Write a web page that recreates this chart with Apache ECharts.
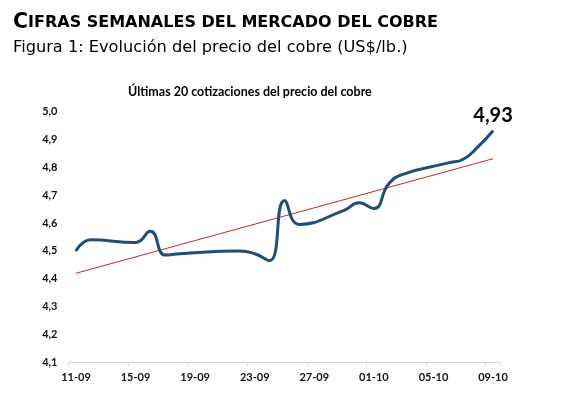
<!DOCTYPE html>
<html>
<head>
<meta charset="utf-8">
<script src="https://cdn.jsdelivr.net/npm/echarts@6/dist/echarts.min.js"></script>
<style>
html,body{margin:0;padding:0;background:#fff;}
#c{width:578px;height:394px;}
</style>
</head>
<body>
<div id="c"></div>
<script>
// all calendar days on the axis (date axis, every 4th labelled)
const days = ['11-09','12-09','13-09','14-09','15-09','16-09','17-09','18-09','19-09','20-09','21-09','22-09','23-09','24-09','25-09','26-09','27-09','28-09','29-09','30-09','01-10','02-10','03-10','04-10','05-10','06-10','07-10','08-10','09-10'];
// the 20 quote dates and prices (US$/lb)
const quoteDates = ['11-09','12-09','15-09','16-09','17-09','18-09','22-09','23-09','24-09','25-09','26-09','29-09','30-09','01-10','02-10','03-10','06-10','07-10','08-10','09-10'];
const prices = [4.50,4.54,4.53,4.57,4.485,4.49,4.50,4.49,4.465,4.68,4.595,4.645,4.672,4.652,4.74,4.775,4.815,4.828,4.873,4.93];
// linear trend line end points
const trendDates = ['11-09','09-10'];
const trendValues = [4.42,4.83];
// y-axis ticks
const yTicks = [4.1,4.2,4.3,4.4,4.5,4.6,4.7,4.8,4.9,5.0];

const fmt = v => v.toFixed(2).replace('.', ',');
const lineData = quoteDates.map((d, i) => {
  const item = { value: [d, prices[i]] };
  if (i === quoteDates.length - 1) {
    item.label = {
      show: true, position: 'top', distance: 5,
      formatter: p => fmt(p.value[1]),
      fontFamily: 'Lato', fontWeight: 'bold', fontSize: 20, color: '#000'
    };
  }
  return item;
});
const trendData = trendDates.map((d, i) => [d, trendValues[i]]);

const chart = echarts.init(document.getElementById('c'), null, { renderer: 'canvas' });
chart.setOption({
  animation: false,
  backgroundColor: '#fff',
  title: [
    {
      text: '{big|C}{small|IFRAS SEMANALES DEL MERCADO DEL COBRE}',
      left: 8, top: 7,
      textStyle: {
        rich: {
          big: { fontFamily: 'DejaVu Sans', fontWeight: 'bold', fontSize: 20.5, color: '#000' },
          small: { fontFamily: 'DejaVu Sans', fontWeight: 'bold', fontSize: 16, color: '#000' }
        }
      }
    },
    {
      text: 'Figura 1: Evolución del precio del cobre (US$/lb.)',
      left: 8, top: 35,
      textStyle: { fontFamily: 'DejaVu Sans', fontWeight: 'normal', fontSize: 16.2, color: '#000' }
    },
    {
      text: 'Últimas 20 cotizaciones del precio del cobre',
      left: 123, top: 80,
      textStyle: { fontFamily: 'Lato', fontWeight: 'bold', fontSize: 12.5, color: '#000' }
    }
  ],
  grid: { left: 68.5, right: 77.5, top: 111.2, bottom: 31.3, containLabel: false },
  xAxis: {
    type: 'category',
    data: days,
    boundaryGap: true,
    axisLine: { lineStyle: { color: '#d9d9d9', width: 1 } },
    axisTick: { show: true, interval: 3, length: 4, lineStyle: { color: '#d9d9d9' } },
    axisLabel: { interval: 3, margin: 9, fontFamily: 'Lato', fontWeight: 'bold', fontSize: 11, color: '#111' },
    splitLine: { show: false }
  },
  yAxis: {
    type: 'value',
    min: yTicks[0], max: yTicks[yTicks.length - 1], interval: 0.1,
    axisLine: { show: false },
    axisTick: { show: false },
    splitLine: { show: false },
    axisLabel: {
      margin: 11, fontFamily: 'Lato', fontWeight: 'bold', fontSize: 11, color: '#111',
      formatter: v => v.toFixed(1).replace('.', ',')
    }
  },
  series: [
    {
      type: 'line', data: trendData, symbol: 'none', smooth: false,
      lineStyle: { color: '#c62828', width: 1 }, z: 2
    },
    {
      type: 'line', data: lineData, symbol: 'circle', symbolSize: 1, showSymbol: true,
      itemStyle: { color: '#1f4e79' }, smooth: 0.5,
      lineStyle: { color: '#1f4e79', width: 3 }, z: 3
    }
  ]
});
</script>
</body>
</html>
